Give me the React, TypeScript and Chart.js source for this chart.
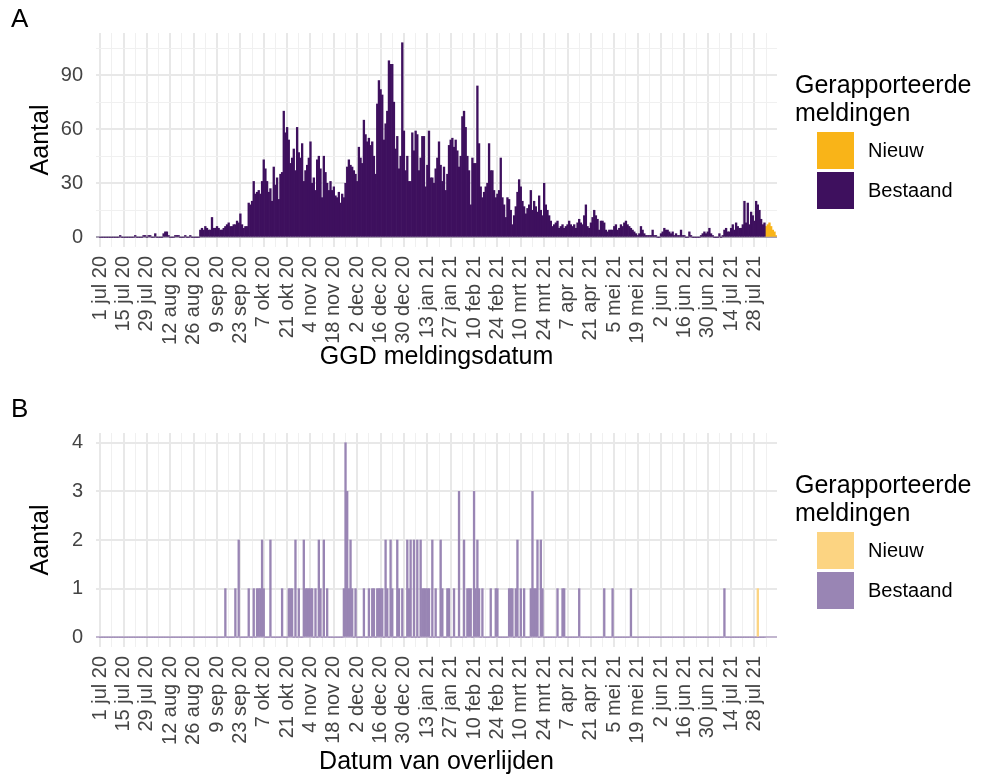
import React, { useEffect, useRef } from 'react';
import { Chart, registerables } from 'chart.js';

Chart.register(...registerables);

// ---------- data ----------
const START_DATE = '2020-07-01';
const FIRST_SHOWN = '2020-06-29';
const LAST_SHOWN = '2021-08-10';
const TICK_EVERY_DAYS = 14;

const tickLabels = [
  '1 jul 20', '15 jul 20', '29 jul 20', '12 aug 20', '26 aug 20', '9 sep 20', '23 sep 20',
  '7 okt 20', '21 okt 20', '4 nov 20', '18 nov 20', '2 dec 20', '16 dec 20', '30 dec 20',
  '13 jan 21', '27 jan 21', '10 feb 21', '24 feb 21', '10 mrt 21', '24 mrt 21', '7 apr 21',
  '21 apr 21', '5 mei 21', '19 mei 21', '2 jun 21', '16 jun 21', '30 jun 21', '14 jul 21', '28 jul 21',
];

// Panel A: daily counts by GGD report date, starting 1 jul 2020
const bestaandA = [
  0, 0, 0, 0, 0, 0, 0, 0, 0, 0,
  0, 0, 1, 0, 0, 0, 0, 0, 0, 0,
  0, 1, 0, 0, 0, 0, 1, 1, 0, 1,
  1, 0, 0, 2, 0, 0, 0, 0, 2, 3,
  3, 1, 0, 0, 0, 1, 1, 1, 0, 0,
  0, 1, 0, 0, 1, 0, 0, 0, 0, 0,
  4, 5, 4, 6, 5, 4, 4, 11, 5, 5,
  6, 5, 4, 4, 5, 6, 7, 8, 6, 6,
  7, 7, 9, 8, 13, 7, 5, 6, 6, 19,
  18, 20, 31, 24, 25, 26, 24, 31, 43, 38,
  31, 25, 27, 20, 39, 29, 33, 21, 35, 36,
  70, 58, 61, 54, 41, 44, 49, 37, 61, 47,
  44, 52, 31, 37, 40, 44, 53, 30, 33, 26,
  43, 45, 38, 22, 45, 36, 30, 26, 31, 26,
  28, 23, 22, 25, 19, 24, 22, 30, 39, 43,
  40, 39, 37, 35, 31, 50, 44, 41, 65, 57,
  53, 55, 51, 53, 45, 35, 74, 87, 82, 79,
  54, 63, 70, 98, 96, 96, 75, 49, 56, 38,
  45, 108, 59, 37, 45, 31, 31, 58, 48, 59,
  57, 37, 44, 56, 56, 28, 40, 59, 33, 33,
  30, 38, 44, 53, 40, 31, 39, 26, 35, 51,
  54, 55, 50, 54, 48, 39, 45, 67, 70, 61,
  45, 37, 18, 44, 41, 41, 84, 52, 28, 22,
  25, 28, 30, 52, 37, 37, 26, 22, 24, 26,
  44, 22, 18, 11, 22, 21, 15, 7, 12, 17,
  25, 32, 28, 20, 17, 13, 16, 18, 26, 15,
  20, 17, 14, 23, 15, 12, 30, 18, 15, 12,
  9, 6, 7, 8, 9, 5, 6, 7, 5, 6,
  7, 9, 7, 6, 7, 5, 8, 10, 8, 7,
  12, 18, 6, 5, 8, 11, 15, 12, 10, 4,
  9, 9, 8, 4, 3, 4, 4, 4, 6, 7,
  4, 5, 7, 6, 8, 9, 7, 6, 5, 4,
  3, 2, 1, 2, 6, 4, 2, 1, 1, 1,
  1, 4, 1, 1, 0, 0, 2, 3, 5, 4,
  4, 3, 2, 3, 1, 2, 1, 1, 4, 1,
  1, 0, 0, 3, 1, 0, 0, 0, 0, 0,
  1, 2, 3, 2, 3, 5, 2, 1, 0, 0,
  0, 2, 0, 1, 4, 5, 3, 3, 5, 7,
  4, 8, 6, 5, 5, 7, 20, 8, 19, 7,
  14, 12, 9, 20, 18, 15, 10, 7, 8,
];
const nieuwAStart = '2021-08-04';
const nieuwA = [6, 7, 8, 6, 4, 3, 1];

// Panel B: daily deaths by date of death, starting 1 jul 2020
const bestaandB = [
  0, 0, 0, 0, 0, 0, 0, 0, 0, 0,
  0, 0, 0, 0, 0, 0, 0, 0, 0, 0,
  0, 0, 0, 0, 0, 0, 0, 0, 0, 0,
  0, 0, 0, 0, 0, 0, 0, 0, 0, 0,
  0, 0, 0, 0, 0, 0, 0, 0, 0, 0,
  0, 0, 0, 0, 0, 0, 0, 0, 0, 0,
  0, 0, 0, 0, 0, 0, 0, 0, 0, 0,
  0, 0, 0, 0, 0, 1, 0, 0, 0, 0,
  0, 1, 0, 2, 0, 0, 0, 0, 0, 1,
  0, 0, 1, 0, 1, 1, 1, 2, 1, 0,
  0, 0, 2, 0, 0, 0, 0, 0, 0, 1,
  0, 0, 0, 1, 1, 1, 0, 2, 0, 1,
  0, 0, 2, 1, 1, 1, 1, 1, 0, 1,
  0, 2, 1, 0, 2, 0, 1, 0, 0, 0,
  0, 0, 0, 0, 0, 0, 1, 4, 3, 1,
  2, 1, 0, 1, 0, 0, 0, 0, 1, 0,
  0, 1, 0, 1, 1, 0, 1, 1, 1, 1,
  0, 2, 1, 0, 2, 1, 0, 0, 2, 1,
  0, 1, 0, 0, 2, 1, 2, 0, 2, 0,
  2, 0, 2, 1, 1, 1, 1, 1, 0, 2,
  0, 1, 0, 0, 2, 1, 0, 0, 1, 1,
  0, 0, 1, 0, 0, 3, 0, 0, 2, 0,
  1, 1, 1, 0, 3, 1, 2, 1, 0, 1,
  0, 0, 0, 0, 1, 0, 0, 1, 1, 0,
  0, 0, 0, 0, 0, 1, 1, 1, 0, 1,
  2, 0, 1, 0, 1, 0, 0, 0, 1, 3,
  1, 1, 2, 0, 2, 1, 0, 0, 0, 0,
  0, 0, 0, 0, 1, 0, 0, 1, 1, 0,
  0, 0, 0, 0, 0, 0, 0, 1, 0, 0,
  0, 0, 0, 0, 0, 0, 0, 0, 0, 0,
  0, 0, 1, 0, 0, 0, 0, 1, 0, 0,
  0, 0, 0, 0, 0, 0, 0, 0, 1, 0,
  0, 0, 0, 0, 0, 0, 0, 0, 0, 0,
  0, 0, 0, 0, 0, 0, 0, 0, 0, 0,
  0, 0, 0, 0, 0, 0, 0, 0, 0, 0,
  0, 0, 0, 0, 0, 0, 0, 0, 0, 0,
  0, 0, 0, 0, 0, 0, 0, 0, 0, 0,
  0, 0, 0, 0, 1, 0, 0, 0, 0, 0,
  0, 0, 0, 0, 0, 0, 0, 0, 0, 0,
  0, 0, 0, 0, 0, 0, 0, 0, 0,
];
const nieuwBStart = '2021-07-30';
const nieuwB = [1];

const legendTitle = ['Gerapporteerde', 'meldingen'];
const seriesNames = ['Nieuw', 'Bestaand'];

// ---------- styling ----------
const FONT = "'Liberation Sans', Arial, Helvetica, sans-serif";
const GRID_MAJOR = '#E8E8E8';
const GRID_MINOR = '#F0F0F0';

function dayIndex(iso: string): number {
  const [y, m, d] = iso.split('-').map(Number);
  const [y0, m0, d0] = START_DATE.split('-').map(Number);
  return Math.round((Date.UTC(y, m - 1, d) - Date.UTC(y0, m0 - 1, d0)) / 86400000);
}

type PanelProps = {
  top: number;
  height: number;
  padTop: number;
  xHeight: number;
  titlePadBottom: number;
  xTitle: string;
  bestaand: number[];
  nieuw: number[];
  nieuwStart: string;
  colBestaand: string;
  colNieuw: string;
  yMajor: number;
  yMinor: number;
  zeroColor: string;
};

function Panel(p: PanelProps) {
  const ref = useRef<HTMLCanvasElement | null>(null);
  useEffect(() => {
    if (!ref.current) return;
    const minDay = dayIndex(FIRST_SHOWN);
    const maxDay = dayIndex(LAST_SHOWN);
    const nStart = dayIndex(p.nieuwStart);
    const totals: Record<number, number> = {};
    p.bestaand.forEach((v, i) => { totals[i] = (totals[i] || 0) + v; });
    p.nieuw.forEach((v, i) => { totals[nStart + i] = (totals[nStart + i] || 0) + v; });
    const maxTotal = Math.max(...Object.values(totals));
    const yMax = maxTotal * 1.05;
    const yMin = -maxTotal * 0.05;

    const chart = new Chart(ref.current, {
      type: 'bar',
      data: {
        datasets: [
          {
            label: 'Bestaand',
            data: p.bestaand.map((v, i) => ({ x: i, y: v })),
            backgroundColor: p.colBestaand,
            borderWidth: 0,
            barPercentage: 1,
            categoryPercentage: 1,
          },
          {
            label: 'Nieuw',
            data: p.nieuw.map((v, i) => ({ x: nStart + i, y: v })),
            backgroundColor: p.colNieuw,
            borderWidth: 0,
            barPercentage: 1,
            categoryPercentage: 1,
          },
        ],
      },
      options: {
        responsive: false,
        animation: false,
        devicePixelRatio: 1,
        layout: { padding: { top: p.padTop, right: 204, left: 0, bottom: 0 } },
        plugins: { legend: { display: false }, tooltip: { enabled: false } },
        scales: {
          x: {
            type: 'linear',
            stacked: true,
            offset: false,
            min: minDay - 0.5,
            max: maxDay + 0.5,
            afterBuildTicks: (s: any) => {
              const t = [];
              for (let d = 0; d <= maxDay; d += TICK_EVERY_DAYS / 2) t.push({ value: d });
              s.ticks = t;
            },
            afterFit: (s: any) => { s.height = p.xHeight; },
            ticks: {
              autoSkip: false,
              minRotation: 90,
              maxRotation: 90,
              padding: 9,
              color: '#444444',
              font: { family: FONT, size: 20 },
              callback: (v: any) => (v % TICK_EVERY_DAYS === 0 ? tickLabels[v / TICK_EVERY_DAYS] ?? '' : ''),
            },
            grid: {
              offset: false,
              drawTicks: false,
              color: (ctx: any) => (ctx.tick && ctx.tick.value % TICK_EVERY_DAYS === 0 ? GRID_MAJOR : GRID_MINOR),
              lineWidth: (ctx: any) => (ctx.tick && ctx.tick.value % TICK_EVERY_DAYS === 0 ? 2 : 1),
            },
            border: { display: false },
            title: {
              display: true,
              text: p.xTitle,
              color: '#000',
              font: { family: FONT, size: 25 },
              padding: { top: 0, bottom: p.titlePadBottom },
            },
          },
          y: {
            stacked: true,
            min: yMin,
            max: yMax,
            afterBuildTicks: (s: any) => {
              const t = [];
              for (let v = 0; v <= yMax + 1e-9; v += p.yMinor) t.push({ value: v });
              s.ticks = t;
            },
            afterFit: (s: any) => { s.width = 96; },
            ticks: {
              padding: 13,
              color: '#444444',
              font: { family: FONT, size: 20 },
              callback: (v: any) => (Math.abs(v / p.yMajor - Math.round(v / p.yMajor)) < 1e-6 ? String(v) : ''),
            },
            grid: {
              drawTicks: false,
              color: (ctx: any) => {
                const v = ctx.tick ? ctx.tick.value : 1;
                if (Math.abs(v) < 1e-9) return p.zeroColor;
                return Math.abs(v / p.yMajor - Math.round(v / p.yMajor)) < 1e-6 ? GRID_MAJOR : GRID_MINOR;
              },
              lineWidth: (ctx: any) => {
                const v = ctx.tick ? ctx.tick.value : 1;
                return Math.abs(v / p.yMajor - Math.round(v / p.yMajor)) < 1e-6 ? 2 : 1;
              },
            },
            border: { display: false },
            title: {
              display: true,
              text: 'Aantal',
              color: '#000',
              font: { family: FONT, size: 25 },
              padding: { top: 26, bottom: 0 },
            },
          },
        },
      },
    } as any);
    return () => chart.destroy();
  }, []);
  return (
    <canvas
      ref={ref}
      width={981}
      height={p.height}
      style={{ position: 'absolute', left: 0, top: p.top, width: 981, height: p.height }}
    />
  );
}

function Legend({ top, colNieuw, colBestaand }: { top: number; colNieuw: string; colBestaand: string }) {
  const cols = [colNieuw, colBestaand];
  return (
    <div style={{ position: 'absolute', left: 795, top, fontFamily: FONT, color: '#000' }}>
      <div style={{ fontSize: 25, lineHeight: '28px' }}>
        {legendTitle.map((t) => (
          <div key={t}>{t}</div>
        ))}
      </div>
      <div style={{ marginTop: 4 }}>
        {seriesNames.map((n, i) => (
          <div key={n} style={{ display: 'flex', alignItems: 'center', height: 40 }}>
            <div style={{ width: 37, height: 37, marginLeft: 22, background: cols[i] }} />
            <div style={{ marginLeft: 14, fontSize: 20 }}>{n}</div>
          </div>
        ))}
      </div>
    </div>
  );
}

export default function App() {
  const colA = { n: '#F9B418', b: '#3E105E' };
  const colB = { n: '#FCD482', b: '#9985B4' };
  return (
    <div style={{ position: 'fixed', left: 0, top: 0, width: 981, height: 777, background: '#fff', overflow: 'hidden' }}>
      <Panel
        top={0}
        height={390}
        padTop={33}
        xHeight={143}
        titlePadBottom={18}
        xTitle="GGD meldingsdatum"
        bestaand={bestaandA}
        nieuw={nieuwA}
        nieuwStart={nieuwAStart}
        colBestaand={colA.b}
        colNieuw={colA.n}
        yMajor={30}
        yMinor={15}
        zeroColor="#A8A0B2"
      />
      <Panel
        top={390}
        height={387}
        padTop={43}
        xHeight={130}
        titlePadBottom={0}
        xTitle="Datum van overlijden"
        bestaand={bestaandB}
        nieuw={nieuwB}
        nieuwStart={nieuwBStart}
        colBestaand={colB.b}
        colNieuw={colB.n}
        yMajor={1}
        yMinor={0.5}
        zeroColor="#C2B6CF"
      />
      <Legend top={70} colNieuw={colA.n} colBestaand={colA.b} />
      <Legend top={470} colNieuw={colB.n} colBestaand={colB.b} />
      <div style={{ position: 'absolute', left: 11, top: 5, fontFamily: FONT, fontSize: 26, lineHeight: '26px' }}>A</div>
      <div style={{ position: 'absolute', left: 11, top: 395, fontFamily: FONT, fontSize: 26, lineHeight: '26px' }}>B</div>
    </div>
  );
}
